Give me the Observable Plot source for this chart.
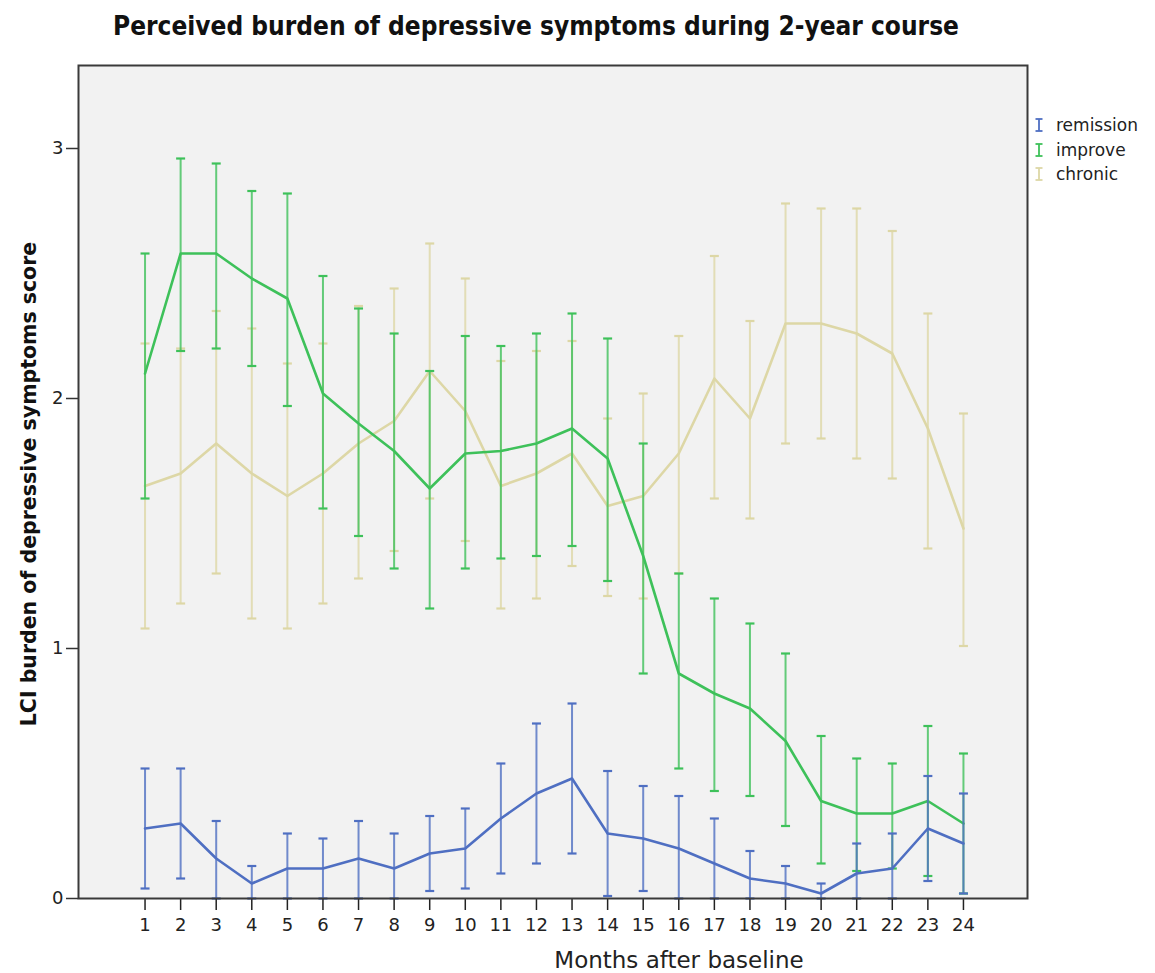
<!DOCTYPE html>
<html>
<head>
<meta charset="utf-8">
<script src="https://cdn.jsdelivr.net/npm/d3@7"></script>
<script src="https://cdn.jsdelivr.net/npm/@observablehq/plot@0.6"></script>
<style>
  html, body { margin: 0; padding: 0; background: #fff; }
  #wrap { position: relative; width: 1155px; height: 973px; font-family: "DejaVu Sans", sans-serif; }
  #title { position: absolute; top: 11px; left: 536px; transform: translateX(-50%); white-space: nowrap;
           font-family: "DejaVu Sans Condensed", "DejaVu Sans", sans-serif; font-weight: bold; font-size: 26px; color: #111; }
  #legend { position: absolute; left: 1034px; top: 113px; font-size: 17px; color: #222; }
  #legend div { display: flex; align-items: center; height: 24.5px; }
  #legend svg { margin-right: 12px; }
  #chart { position: absolute; left: 0; top: 0; }
</style>
</head>
<body>
<div id="wrap">
  <div id="chart"></div>
  <div id="title"></div>
  <div id="legend"></div>
</div>
<script>
const months = [1,2,3,4,5,6,7,8,9,10,11,12,13,14,15,16,17,18,19,20,21,22,23,24];
const seriesNames = ["remission", "improve", "chronic"];
const seriesColors = ["#4f6fc2", "#3ec15a", "#ddd7a6"];
const yTicks = [0, 1, 2, 3];

const remissionMean = [0.28,0.30,0.16,0.06,0.12,0.12,0.16,0.12,0.18,0.20,0.32,0.42,0.48,0.26,0.24,0.20,0.14,0.08,0.06,0.02,0.10,0.12,0.28,0.22];
const remissionLow  = [0.04,0.08,0.00,0.00,0.00,0.00,0.00,0.00,0.03,0.04,0.10,0.14,0.18,0.01,0.03,0.00,0.00,0.00,0.00,0.00,0.00,0.00,0.07,0.02];
const remissionHigh = [0.52,0.52,0.31,0.13,0.26,0.24,0.31,0.26,0.33,0.36,0.54,0.70,0.78,0.51,0.45,0.41,0.32,0.19,0.13,0.06,0.22,0.26,0.49,0.42];

const improveMean = [2.10,2.58,2.58,2.48,2.40,2.02,1.90,1.79,1.64,1.78,1.79,1.82,1.88,1.76,1.37,0.90,0.82,0.76,0.63,0.39,0.34,0.34,0.39,0.30];
const improveLow  = [1.60,2.19,2.20,2.13,1.97,1.56,1.45,1.32,1.16,1.32,1.36,1.37,1.41,1.27,0.90,0.52,0.43,0.41,0.29,0.14,0.11,0.12,0.09,0.02];
const improveHigh = [2.58,2.96,2.94,2.83,2.82,2.49,2.36,2.26,2.11,2.25,2.21,2.26,2.34,2.24,1.82,1.30,1.20,1.10,0.98,0.65,0.56,0.54,0.69,0.58];

const chronicMean = [1.65,1.70,1.82,1.70,1.61,1.70,1.82,1.91,2.11,1.95,1.65,1.70,1.78,1.57,1.61,1.78,2.08,1.92,2.30,2.30,2.26,2.18,1.88,1.48];
const chronicLow  = [1.08,1.18,1.30,1.12,1.08,1.18,1.28,1.39,1.60,1.43,1.16,1.20,1.33,1.21,1.20,1.30,1.60,1.52,1.82,1.84,1.76,1.68,1.40,1.01];
const chronicHigh = [2.22,2.20,2.35,2.28,2.14,2.22,2.37,2.44,2.62,2.48,2.15,2.19,2.23,1.92,2.02,2.25,2.57,2.31,2.78,2.76,2.76,2.67,2.34,1.94];

const titleText = "Perceived burden of depressive symptoms during 2-year course";
const xLabel = "Months after baseline";
const yLabel = "LCI burden of depressive symptoms score";

function build(name, mean, low, high) {
  return months.map((m, i) => ({series: name, month: m, mean: mean[i], low: low[i], high: high[i]}));
}
const data = {
  remission: build("remission", remissionMean, remissionLow, remissionHigh),
  improve: build("improve", improveMean, improveLow, improveHigh),
  chronic: build("chronic", chronicMean, chronicLow, chronicHigh)
};

// horizontal cap symbol for error bars
const capSymbol = {
  draw(ctx, size) {
    const w = Math.sqrt(size / Math.PI);
    ctx.moveTo(-w, 0);
    ctx.lineTo(w, 0);
  }
};

const drawOrder = ["chronic", "improve", "remission"];
const seriesMarks = drawOrder.flatMap(name => {
  const c = seriesColors[seriesNames.indexOf(name)];
  const d = data[name];
  return [
    Plot.ruleX(d, {x: "month", y1: "low", y2: "high", stroke: c, strokeWidth: 2, strokeOpacity: 0.8}),
    Plot.dot(d, {x: "month", y: "low", symbol: capSymbol, r: 4.5, stroke: c, strokeWidth: 2.2, fill: "none"}),
    Plot.dot(d, {x: "month", y: "high", symbol: capSymbol, r: 4.5, stroke: c, strokeWidth: 2.2, fill: "none"}),
    Plot.line(d, {x: "month", y: "mean", stroke: c, strokeWidth: 2.6})
  ];
});

const chart = Plot.plot({
  width: 1155,
  height: 973,
  marginLeft: 78,
  marginRight: 128,
  marginTop: 65,
  marginBottom: 75,
  style: {fontFamily: "DejaVu Sans, sans-serif", fontSize: "18px", background: "#fff", color: "#222"},
  x: {domain: [-0.87, 25.8]},
  y: {domain: [0, 3.332]},
  marks: [
    Plot.frame({fill: "#f2f2f2", stroke: null}),
    ...seriesMarks,
    Plot.axisY({ticks: yTicks, tickFormat: "d", tickSize: 12, tickPadding: 3, label: null, stroke: "#333", strokeWidth: 1.5, fontSize: 18}),
    Plot.axisX({ticks: months, tickFormat: "d", tickSize: 12, tickPadding: 8, label: null, stroke: "#222", strokeWidth: 1.5, fontSize: 18}),
    Plot.frame({stroke: "#3a3a3a", strokeWidth: 2}),
    Plot.text([xLabel], {frameAnchor: "bottom", dx: 126, dy: 69, fontSize: 23, fill: "#222"}),
    Plot.text([yLabel], {frameAnchor: "left", textAnchor: "middle", dx: -49, dy: 2, rotate: -90, fontSize: 20.5, fontWeight: "bold", fill: "#111"})
  ]
});
document.getElementById("chart").appendChild(chart);
document.getElementById("title").textContent = titleText;

const legend = document.getElementById("legend");
seriesNames.forEach((name, i) => {
  const row = document.createElement("div");
  const c = seriesColors[i];
  row.innerHTML = `<svg width="10" height="14"><line x1="5" y1="1" x2="5" y2="13" stroke="${c}" stroke-width="1.8"/><line x1="1.5" y1="1" x2="8.5" y2="1" stroke="${c}" stroke-width="1.8"/><line x1="1.5" y1="13" x2="8.5" y2="13" stroke="${c}" stroke-width="1.8"/></svg><span>${name}</span>`;
  legend.appendChild(row);
});
</script>
</body>
</html>
